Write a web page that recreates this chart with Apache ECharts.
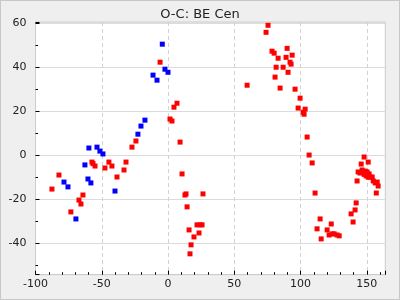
<!DOCTYPE html>
<html>
<head>
<meta charset="utf-8">
<script src="https://cdn.jsdelivr.net/npm/echarts@6/dist/echarts.min.js"></script>
<style>
  html, body { margin: 0; padding: 0; background: #efefef; }
  #wrap { position: relative; width: 400px; height: 300px; }
  #chart { position: absolute; left: 0; top: 0; width: 400px; height: 300px; }
  #frame { position: absolute; left: 0; top: 0; width: 400px; height: 300px; box-sizing: border-box; border: 1px solid #c8c8c8; pointer-events: none; }
</style>
</head>
<body>
<div id="wrap"><div id="chart"></div><div id="frame"></div></div>
<script>
const titleText = 'O-C: BE Cen';
const xTickLabels = [-100, -50, 0, 50, 100, 150];
const yTickLabels = [-40, -20, 0, 20, 40, 60];

const blueX = [-4.3, -2.3, 0.0, -11.3, -8.3, -17.4, -20.4, -22.7, -59.7, -53.6, -51.4, -49.1, -62.7, -60.4, -58.2, -78.5, -75.5, -40.0, -69.5];
const blueY = [50.5, 39.1, 37.7, 36.4, 34.1, 15.9, 13.2, 9.5, 3.2, 3.6, 1.8, 0.5, -4.5, -10.9, -12.7, -12.3, -14.5, -16.4, -29.1];

const redX = [-87.6, -82.3, -73.3, -67.2, -65.7, -64.2, -57.4, -56.6, -55.1, -47.6, -44.6, -42.3, -38.5, -33.2, -31.7, -27.2, -24.2,
  -6.0, 1.5, 3.0, 4.5, 6.8, 9.1, 10.6, 12.8, 13.6, 14.4, 15.9, 17.4, 16.6, 19.6, 21.9, 23.4, 24.2, 25.7, 26.4,
  59.7, 74.0, 75.5, 78.5, 80.1, 81.6, 80.8, 83.1, 84.6, 86.9, 89.1, 89.9, 90.6, 92.1, 92.9, 93.7, 95.9, 98.2, 99.7,
  102.0, 102.7, 103.5, 105.0, 106.5, 108.8, 111.0, 112.5, 114.8, 115.6, 120.1, 121.6, 123.2, 123.9, 125.4, 127.6, 129.2,
  138.2, 139.7, 141.2, 142.0, 142.7, 143.5, 145.0, 145.8, 146.5, 148.0, 148.8, 149.5, 150.3, 151.1, 151.8, 152.6, 154.1,
  154.9, 156.4, 157.9, 157.2, 158.6, 148.0, 151.1];
const redY = [-15.5, -9.1, -25.9, -20.5, -22.3, -18.2, -3.2, -3.9, -5.0, -5.9, -3.2, -5.0, -10.0, -6.8, -3.2, 3.6, 6.4,
  42.3, 16.4, 15.5, 21.8, 23.6, 5.9, -8.6, -18.2, -17.7, -23.6, -34.1, -40.9, -45.0, -37.3, -31.8, -35.5, -31.8, -31.8, -17.7,
  31.8, 55.9, 59.1, 47.3, 46.4, 40.0, 35.5, 44.1, 30.5, 40.0, 44.5, 48.6, 37.7, 42.3, 41.4, 45.5, 30.0, 21.4, 25.9,
  19.5, 18.6, 20.9, 8.2, 0.0, -3.6, -17.3, -33.6, -29.1, -38.2, -34.1, -36.4, -31.4, -35.9, -35.9, -36.4, -36.8,
  -26.8, -30.5, -25.0, -21.8, -11.8, -7.7, -8.2, -4.1, -6.8, -0.9, -7.3, -9.5, -7.7, -3.2, -8.6, -10.0, -10.0,
  -11.8, -12.7, -12.3, -17.3, -14.1, -8.8, -10.1];

const pairs = (xs, ys) => xs.map((x, i) => [x, ys[i]]);

const chart = echarts.init(document.getElementById('chart'), null, { renderer: 'canvas' });
const fontFamily = 'DejaVu Sans';
chart.setOption({
  backgroundColor: 'transparent',
  animation: false,
  title: {
    text: titleText, left: 'center', top: 3,
    textStyle: { fontFamily, fontSize: 13, fontWeight: 'normal', color: '#222' }
  },
  grid: {
    left: 35.5, right: 14.7, top: 22, bottom: 25.3,
    show: true, backgroundColor: '#ffffff', borderColor: '#cccccc', borderWidth: 1
  },
  xAxis: {
    type: 'value', min: xTickLabels[0], max: 164, interval: 50,
    axisLine: { show: true, onZero: false, lineStyle: { color: '#cccccc' } },
    axisTick: { show: true, inside: true, length: 4, lineStyle: { color: '#000', width: 1 } },
    minorTick: { show: true, splitNumber: 5, length: 2.5, lineStyle: { color: '#000', width: 1 } },
    axisLabel: {
      fontFamily, fontSize: 11, color: '#222', margin: 4,
      showMinLabel: true, showMaxLabel: false
    },
    splitLine: { show: true, lineStyle: { color: '#d2d2d2', type: [4, 3] } }
  },
  yAxis: {
    type: 'value', min: -54.5, max: 60.6, splitNumber: 6,
    axisLine: { show: true, onZero: false, lineStyle: { color: '#cccccc' } },
    axisTick: { show: true, inside: true, length: 4, lineStyle: { color: '#000', width: 1 } },
    minorTick: { show: true, splitNumber: 2, length: 2.5, lineStyle: { color: '#000', width: 1 } },
    axisLabel: {
      fontFamily, fontSize: 11, color: '#222', margin: 9,
      showMinLabel: false, showMaxLabel: false
    },
    splitLine: { show: true, lineStyle: { color: '#dcdcdc', type: 'solid' } }
  },
  series: [
    {
      type: 'scatter', data: pairs(redX, redY), symbol: 'rect', symbolSize: 5,
      itemStyle: { color: '#ff0000', opacity: 1 }
    },
    {
      type: 'scatter', data: pairs(blueX, blueY), symbol: 'rect', symbolSize: 5,
      itemStyle: { color: '#0000ff', opacity: 1 }
    }
  ]
});
</script>
</body>
</html>
